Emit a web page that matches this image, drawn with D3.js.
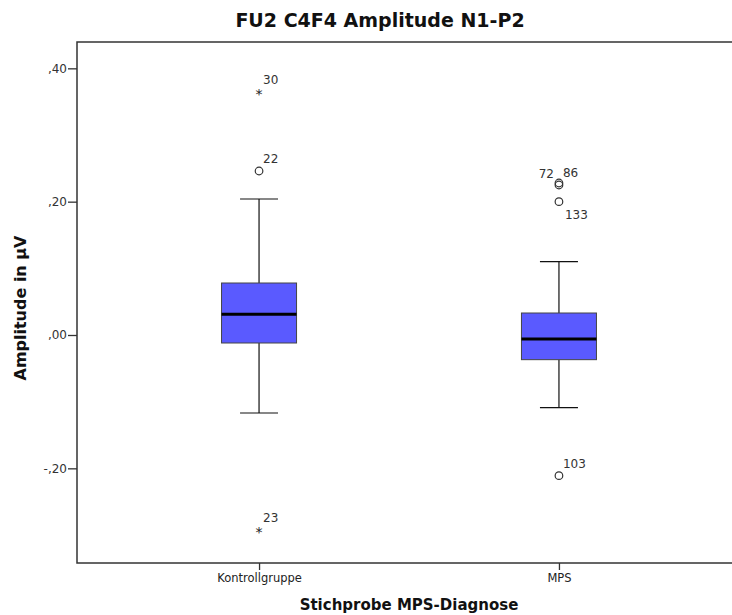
<!DOCTYPE html>
<html><head><meta charset="utf-8">
<script src="https://cdn.jsdelivr.net/npm/d3@7"></script>
<style>body{margin:0;background:#fff;} text{font-family:"DejaVu Sans",sans-serif;}</style>
</head><body>
<svg id="c" width="732" height="615"></svg>
<script>
const categories = ["Kontrollgruppe", "MPS"];
const whiskerLow = [-0.117, -0.109];
const q1 = [-0.012, -0.037];
const median = [0.031, -0.006];
const q3 = [0.078, 0.033];
const whiskerHigh = [0.204, 0.110];
const outlierGroup = ["Kontrollgruppe", "Kontrollgruppe", "Kontrollgruppe", "MPS", "MPS", "MPS", "MPS"];
const outlierValue = [0.365, 0.246, -0.292, 0.228, 0.225, 0.200, -0.211];
const outlierLabel = ["30", "22", "23", "72", "86", "133", "103"];
const outlierExtreme = [true, false, true, false, false, false, false];
const yTicks = [-0.20, 0.00, 0.20, 0.40];

(function () {
const svg = d3.select("#c");
const pL = 77, pT = 42, pB = 563, pR = 741;
const x = d3.scalePoint().domain(categories).range([pL, pR]).padding(0.607);
const y = d3.scaleLinear().domain([-0.342, 0.4395]).range([pB, pT]);

const loc = d3.formatLocale({decimal: ",", thousands: ".", grouping: [3], currency: ["", "€"], minus: "-"});
const f2 = loc.format(".2f");
const fmt = v => f2(v).replace(/^(-?)0,/, "$1,");

// frame
svg.append("rect").attr("x", pL).attr("y", pT).attr("width", pR - pL).attr("height", pB - pT)
  .attr("fill", "none").attr("stroke", "#333").attr("stroke-width", 1.5);

// y axis
const ya = svg.append("g").attr("transform", `translate(${pL},0)`)
  .call(d3.axisLeft(y).tickValues(yTicks).tickFormat(fmt).tickSize(9).tickPadding(1));
ya.select(".domain").remove();
ya.selectAll("line").attr("stroke", "#333").attr("stroke-width", 1.3);
ya.selectAll("text").attr("font-size", 12).attr("fill", "#333").attr("font-family", "DejaVu Sans");

// x axis
const xa = svg.append("g").attr("transform", `translate(0,${pB})`)
  .call(d3.axisBottom(x).tickSize(7).tickPadding(4));
xa.select(".domain").remove();
xa.selectAll("line").attr("stroke", "#333").attr("stroke-width", 1.3);
xa.selectAll("text").attr("font-size", 11.5).attr("fill", "#222").attr("font-family", "DejaVu Sans");

const boxW = 75, capW = 38;
const g = svg.append("g");
categories.forEach((c, i) => {
  const cx = x(c);
  g.append("line").attr("x1", cx).attr("x2", cx).attr("y1", y(whiskerHigh[i])).attr("y2", y(q3[i])).attr("stroke", "#111").attr("stroke-width", 1.2);
  g.append("line").attr("x1", cx).attr("x2", cx).attr("y1", y(q1[i])).attr("y2", y(whiskerLow[i])).attr("stroke", "#111").attr("stroke-width", 1.2);
  g.append("line").attr("x1", cx - capW / 2).attr("x2", cx + capW / 2).attr("y1", y(whiskerHigh[i])).attr("y2", y(whiskerHigh[i])).attr("stroke", "#111").attr("stroke-width", 1.2);
  g.append("line").attr("x1", cx - capW / 2).attr("x2", cx + capW / 2).attr("y1", y(whiskerLow[i])).attr("y2", y(whiskerLow[i])).attr("stroke", "#111").attr("stroke-width", 1.2);
  g.append("rect").attr("x", cx - boxW / 2).attr("y", y(q3[i])).attr("width", boxW).attr("height", y(q1[i]) - y(q3[i]))
    .attr("fill", "#5a5aff").attr("stroke", "#444").attr("stroke-width", 1);
  g.append("line").attr("x1", cx - boxW / 2).attr("x2", cx + boxW / 2).attr("y1", y(median[i])).attr("y2", y(median[i])).attr("stroke", "#000").attr("stroke-width", 3);
});

// label placement style by label id
const labelSide = {"72": "left", "133": "below"};
outlierValue.forEach((v, i) => {
  const cx = x(outlierGroup[i]), cy = y(v);
  if (outlierExtreme[i]) {
    g.append("text").attr("x", cx).attr("y", cy + 7).attr("text-anchor", "middle").attr("font-size", 14).attr("fill", "#222").text("*");
  } else {
    g.append("circle").attr("cx", cx).attr("cy", cy).attr("r", 3.8).attr("fill", "none").attr("stroke", "#333").attr("stroke-width", 1.2);
  }
  const side = labelSide[outlierLabel[i]];
  const t = g.append("text").attr("font-size", 12).attr("fill", "#333").text(outlierLabel[i]);
  if (side === "left") t.attr("x", cx - 5).attr("y", cy - 5).attr("text-anchor", "end");
  else if (side === "below") t.attr("x", cx + 6).attr("y", cy + 17);
  else t.attr("x", cx + 4).attr("y", cy - 8);
});

// titles
svg.append("text").attr("x", 380).attr("y", 27).attr("text-anchor", "middle").attr("font-size", 19).attr("font-weight", "bold").attr("fill", "#111").text("FU2 C4F4 Amplitude N1-P2");
svg.append("text").attr("x", 409).attr("y", 610).attr("text-anchor", "middle").attr("font-size", 15).attr("font-weight", "bold").attr("fill", "#111").text("Stichprobe MPS-Diagnose");
svg.append("text").attr("transform", "translate(26,308) rotate(-90)").attr("text-anchor", "middle").attr("font-size", 16).attr("font-weight", "bold").attr("fill", "#111").text("Amplitude in µV");
})();
</script>
</body></html>
